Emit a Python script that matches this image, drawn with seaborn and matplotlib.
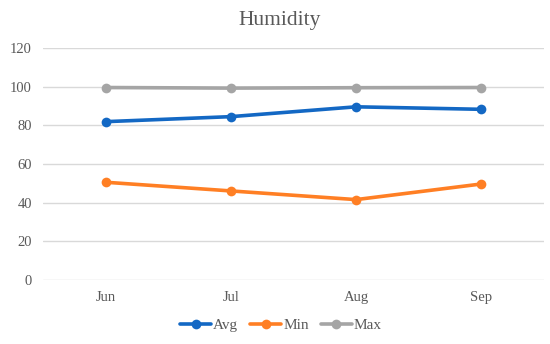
import numpy as np
import pandas as pd
import matplotlib
matplotlib.use("Agg")
import matplotlib.pyplot as plt
import seaborn as sns

months = ["Jun", "Jul", "Aug", "Sep"]
avg = [81.9, 84.5, 89.6, 88.3]
mins = [50.5, 46.0, 41.5, 49.6]
maxs = [99.6, 99.3, 99.5, 99.6]
y_ticks = [0, 20, 40, 60, 80, 100, 120]

sns.set_theme(style="white")
plt.rcParams['font.family'] = ['Liberation Serif', 'DejaVu Serif']

df = pd.DataFrame({"Month": months * 3,
                   "Humidity": avg + mins + maxs,
                   "Series": ["Avg"] * 4 + ["Min"] * 4 + ["Max"] * 4})
df["x"] = np.tile(np.arange(len(months)), 3)

colors = {"Avg": "#1368C4", "Min": "#FF7F24", "Max": "#A5A5A5"}

fig = plt.figure(figsize=(5.5, 3.44), dpi=100)
ax = fig.add_axes([0.078, 0.187, 0.911, 0.673])
sns.lineplot(data=df, x="x", y="Humidity", hue="Series", palette=colors,
             marker="o", markersize=7, markeredgewidth=0, linewidth=2.6,
             ax=ax, legend=False)

ax.set_xlim(-0.5, len(months) - 0.5)
ax.set_ylim(0, 120)
ax.set_yticks(y_ticks)
ax.set_xticks(range(len(months)))
ax.set_xticklabels(months)
ax.grid(axis="y", color="#D9D9D9", linewidth=1)
ax.set_axisbelow(True)
for s in ax.spines.values():
    s.set_visible(False)
ax.tick_params(axis="both", length=0, labelsize=10.5, colors="#595959", pad=8)
ax.set_xlabel("")
ax.set_ylabel("")
fig.text(0.508, 0.927, "Humidity", fontsize=15.5, color="#595959",
         ha="center", va="baseline")

handles = [plt.Line2D([], [], color=colors[k], marker="o", markersize=7,
                      markeredgewidth=0, linewidth=2.6) for k in ["Avg", "Min", "Max"]]
fig.legend(handles, ["Avg", "Min", "Max"], loc="center", bbox_to_anchor=(0.511, 0.055),
           ncol=3, frameon=False, fontsize=11, labelcolor="#595959",
           handlelength=2.0, handletextpad=0.15, columnspacing=0.8)

fig.savefig("out.png", dpi=100)
